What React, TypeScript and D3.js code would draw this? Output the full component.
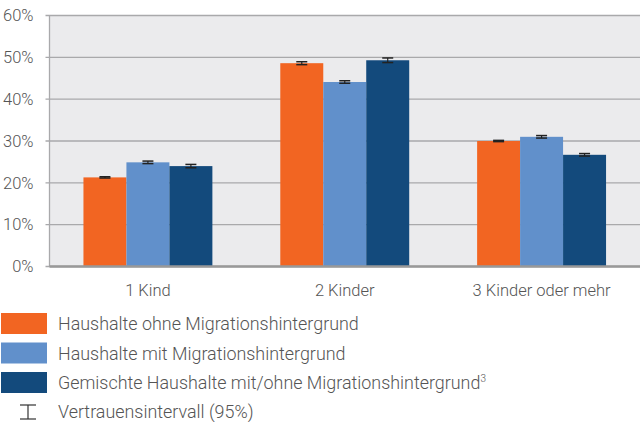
import React from 'react';
import * as d3 from 'd3';

const categories = ['1 Kind', '2 Kinder', '3 Kinder oder mehr'];
const seriesNames = [
  'Haushalte ohne Migrationshintergrund',
  'Haushalte mit Migrationshintergrund',
  'Gemischte Haushalte mit/ohne Migrationshintergrund',
];
const seriesColors = ['#f26522', '#6190cb', '#134a7c'];
// values in %, one array per series (per category)
const ohneValues = [21.3, 48.6, 30.0];
const mitValues = [24.9, 44.1, 31.0];
const gemischtValues = [24.0, 49.3, 26.7];
// half-width of confidence interval in %
const ohneErr = [0.15, 0.35, 0.15];
const mitErr = [0.3, 0.3, 0.3];
const gemischtErr = [0.4, 0.55, 0.3];
const yTicks = [0, 10, 20, 30, 40, 50, 60];

const allValues = [ohneValues, mitValues, gemischtValues];
const allErr = [ohneErr, mitErr, gemischtErr];

const App = () => {
  const width = 640;
  const height = 422;
  const margin = { top: 15.5, left: 49.5, right: 0, bottom: 155.5 };
  const plotW = width - margin.left - margin.right;
  const plotH = height - margin.top - margin.bottom;

  const x = d3.scaleBand<string>()
    .domain(categories)
    .range([0, plotW])
    .paddingInner(0.345)
    .paddingOuter(0.1725);
  const xs = d3.scaleBand<number>()
    .domain([0, 1, 2])
    .range([0, x.bandwidth()]);
  const y = d3.scaleLinear().domain([0, 60]).range([plotH, 0]);

  const font = 'Roboto, "Noto Sans", sans-serif';
  const textColor = '#555';

  return (
    <svg width={width} height={height} style={{ position: 'absolute', left: 0, top: 0 }} fontFamily={font}>
      <g transform={`translate(${margin.left},${margin.top})`}>
        <rect x={0} y={0} width={plotW} height={plotH} fill="#ebebed" />
        {yTicks.map(t => (
          <g key={t}>
            <line x1={-4} x2={plotW} y1={y(t)} y2={y(t)} stroke="#a9a9ab" strokeWidth={1.3} />
            <text x={-16} y={y(t)} dy="0.35em" textAnchor="end" fontSize={16.5} fontWeight={300} fill={textColor}>{t}%</text>
          </g>
        ))}
        <line x1={0} x2={0} y1={0} y2={plotH} stroke="#a9a9ab" strokeWidth={1.3} />
        {categories.map((c, ci) => (
          <g key={c} transform={`translate(${x(c)},0)`}>
            {allValues.map((vals, si) => {
              const bx = xs(si)!;
              const bw = xs.bandwidth();
              const cx = bx + bw / 2;
              const e = allErr[si][ci];
              return (
                <g key={si}>
                  <rect x={bx} y={y(vals[ci])} width={bw} height={plotH - y(vals[ci])} fill={seriesColors[si]} />
                  <line x1={cx} x2={cx} y1={y(vals[ci] + e)} y2={y(vals[ci] - e)} stroke="#222" strokeWidth={1.2} />
                  <line x1={cx - 5.5} x2={cx + 5.5} y1={y(vals[ci] + e)} y2={y(vals[ci] + e)} stroke="#222" strokeWidth={1.5} />
                  <line x1={cx - 5.5} x2={cx + 5.5} y1={y(vals[ci] - e)} y2={y(vals[ci] - e)} stroke="#222" strokeWidth={1.5} />
                </g>
              );
            })}
            <text x={x.bandwidth() / 2} y={plotH + 29} textAnchor="middle" fontSize={16.5} fontWeight={300} fill={textColor}>{c}</text>
          </g>
        ))}
        <line x1={0} x2={plotW} y1={plotH} y2={plotH} stroke="#999" strokeWidth={2.5} />
      </g>
      <g>
        {seriesNames.map((s, i) => (
          <g key={s} transform={`translate(1,${313 + i * 29.5})`}>
            <rect x={0} y={0} width={46} height={21} fill={seriesColors[i]} />
            <text x={57} y={11} dy="0.35em" fontSize={17.9} fontWeight={300} fill={textColor}>
              {s}
              {i === 2 ? <tspan fontSize={10} dy={-7}>3</tspan> : null}
            </text>
          </g>
        ))}
        <g transform="translate(1,401)">
          <line x1={27} x2={27} y1={4} y2={18} stroke="#333" strokeWidth={1.2} />
          <line x1={19} x2={35} y1={4} y2={4} stroke="#333" strokeWidth={1.2} />
          <line x1={19} x2={35} y1={18} y2={18} stroke="#333" strokeWidth={1.2} />
          <text x={57} y={11} dy="0.35em" fontSize={17.9} fontWeight={300} fill={textColor}>Vertrauensintervall (95%)</text>
        </g>
      </g>
    </svg>
  );
};

export default App;
